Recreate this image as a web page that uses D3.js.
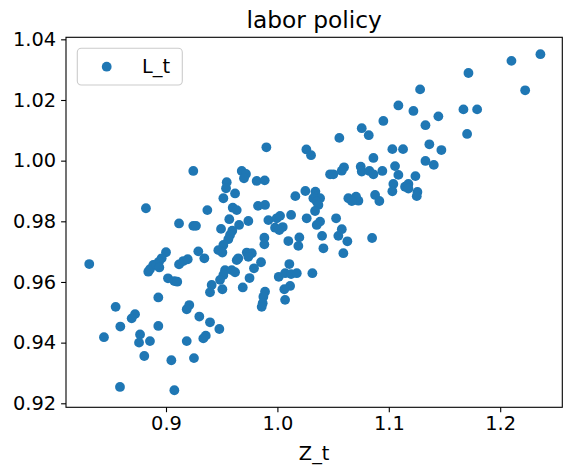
<!DOCTYPE html>
<html>
<head>
<meta charset="utf-8">
<script src="https://cdn.jsdelivr.net/npm/d3@7/dist/d3.min.js"></script>
<style>
  html, body { margin: 0; padding: 0; background: #fff; }
  svg text { font-family: "DejaVu Sans", sans-serif; fill: #000; }
</style>
</head>
<body>
<svg id="chart" width="572" height="473"></svg>
<script>
// Data
const Z_t = [
  1.2361,1.2101,1.2224,1.1715,1.1281,1.1086,1.1221,1.1670,1.1793,1.1445,
  1.0951,1.1329,1.0757,1.0820,1.1703,1.1364,1.1032,1.1128,1.1472,1.0862,
  1.1329,1.1404,1.1056,1.1086,1.1239,1.0942,1.1041,1.1146,1.1176,1.1176,
  1.1257,1.1251,1.1032,1.0877,1.0915,1.0727,1.0748,1.0757,1.0826,1.0862,
  1.0556,0.9901,1.0260,1.0302,1.0598,1.0578,1.0473,1.0502,0.9814,0.9886,
  1.0161,1.0251,1.0341,1.0347,1.0383,1.0323,1.0353,1.0368,1.0338,1.0637,
  1.0706,1.0668,0.9826,0.9889,0.9919,0.9994,1.0024,1.0123,1.0263,0.9979,
  1.0048,1.0017,1.0353,1.0383,1.0527,1.0578,1.0547,1.0628,1.0850,1.0401,
  1.0413,1.0592,1.0197,1.0098,1.0188,0.9883,0.9883,1.0107,1.0012,1.0069,
  1.0123,1.0174,1.0314,1.0114,1.0062,1.0069,0.9889,0.9874,0.9868,0.9859,
  0.9790,0.9853,0.9750,0.9245,0.9680,0.9718,0.9700,0.9545,0.9539,0.9620,
  0.9515,0.9599,0.9635,0.8820,0.9371,0.9117,0.9245,0.9269,0.9494,0.9568,
  0.9656,0.9739,0.9595,0.9575,0.9559,0.9515,0.9470,0.9506,0.9725,0.9770,
  0.9739,0.9635,0.9649,0.9290,0.9344,0.9000,0.8961,0.8937,0.8886,0.8841,
  0.8856,0.8910,0.8940,0.9117,0.9155,0.9195,0.8311,0.9018,0.9075,0.9101,
  0.9530,0.9590,0.9620,0.9515,0.9485,0.9410,0.9395,0.9506,0.9689,0.8931,
  0.8548,0.9209,0.9186,0.8722,0.8692,0.9299,0.9395,0.9479,0.8590,0.8931,
  0.8443,0.8767,0.8758,0.8856,0.9186,0.9357,0.9335,0.8805,0.9048,0.9251,
  0.8587,0.9075
];
const L_t = [
  1.0351,1.0329,1.0232,1.0289,1.0235,1.0182,1.0164,1.0169,1.0169,1.0146,
  1.0131,1.0117,1.0107,1.0084,1.0088,1.0054,1.0038,1.0038,1.0035,1.0009,
  0.9999,0.9986,0.9982,0.9953,0.9949,0.9966,0.9923,0.9914,0.9923,0.9908,
  0.9897,0.9883,0.9899,0.9887,0.9867,0.9868,0.9980,0.9964,0.9966,0.9955,
  1.0075,1.0044,1.0037,1.0018,0.9978,0.9967,0.9955,0.9955,0.9933,0.9935,
  0.9883,0.9900,0.9898,0.9881,0.9876,0.9876,0.9865,0.9854,0.9834,0.9876,
  0.9881,0.9867,0.9851,0.9854,0.9804,0.9810,0.9818,0.9821,0.9810,0.9779,
  0.9781,0.9771,0.9788,0.9799,0.9810,0.9774,0.9752,0.9734,0.9745,0.9752,
  0.9711,0.9695,0.9747,0.9735,0.9719,0.9746,0.9724,0.9659,0.9617,0.9629,
  0.9626,0.9629,0.9629,0.9587,0.9576,0.9541,0.9568,0.9551,0.9530,0.9518,
  0.9645,0.9665,0.9613,0.9966,0.9966,0.9956,0.9942,0.9929,0.9909,0.9892,
  0.9876,0.9845,0.9837,0.9843,0.9837,0.9793,0.9785,0.9785,0.9775,0.9807,
  0.9788,0.9801,0.9769,0.9755,0.9741,0.9722,0.9705,0.9697,0.9697,0.9695,
  0.9683,0.9672,0.9678,0.9701,0.9678,0.9698,0.9678,0.9667,0.9656,0.9634,
  0.9642,0.9658,0.9648,0.9658,0.9669,0.9675,0.9659,0.9612,0.9603,0.9601,
  0.9639,0.9639,0.9632,0.9623,0.9607,0.9590,0.9566,0.9576,0.9582,0.9549,
  0.9518,0.9524,0.9510,0.9494,0.9480,0.9486,0.9467,0.9445,0.9453,0.9455,
  0.9418,0.9427,0.9400,0.9405,0.9405,0.9423,0.9414,0.9356,0.9342,0.9349,
  0.9254,0.9243
];
const xTicks = [0.9, 1.0, 1.1, 1.2];
const yTicks = [0.92, 0.94, 0.96, 0.98, 1.00, 1.02, 1.04];
const titleText = "labor policy";
const xLabel = "Z_t";
const seriesName = "L_t";

(function () {
  const svg = d3.select("#chart");
  const mLeft = 66, mRight = 562.3, mTop = 37.3, mBottom = 407.3;
  const color = "#1f77b4";
  const r = 4.9;

  const x = d3.scaleLinear().domain([0.81023, 1.25575]).range([mLeft, mRight]);
  const y = d3.scaleLinear().domain([0.91868, 1.04067]).range([mBottom, mTop]);

  const points = Z_t.map((z, i) => ({ z: z, l: L_t[i] }));

  svg.append("g")
    .selectAll("circle")
    .data(points)
    .enter().append("circle")
    .attr("cx", d => x(d.z))
    .attr("cy", d => y(d.l))
    .attr("r", r)
    .attr("fill", color);

  const fs = 19.4;
  const xAxis = svg.append("g")
    .attr("transform", `translate(0,${mBottom})`)
    .call(d3.axisBottom(x).tickValues(xTicks).tickFormat(d3.format(".1f")).tickSize(4.9).tickPadding(4.2));
  const yAxis = svg.append("g")
    .attr("transform", `translate(${mLeft},0)`)
    .call(d3.axisLeft(y).tickValues(yTicks).tickFormat(d3.format(".2f")).tickSize(4.9).tickPadding(4.9));

  [xAxis, yAxis].forEach(g => {
    g.select(".domain").remove();
    g.selectAll(".tick line").attr("stroke", "#000").attr("stroke-width", 1.1);
    g.selectAll(".tick text")
      .style("font-family", "DejaVu Sans, sans-serif")
      .style("font-size", fs + "px")
      .attr("fill", "#000");
  });

  svg.append("rect")
    .attr("x", mLeft).attr("y", mTop)
    .attr("width", mRight - mLeft).attr("height", mBottom - mTop)
    .attr("fill", "none").attr("stroke", "#000").attr("stroke-width", 1.1);

  svg.append("text")
    .attr("x", (mLeft + mRight) / 2).attr("y", 28.3)
    .attr("text-anchor", "middle")
    .style("font-size", "23.3px")
    .text(titleText);

  svg.append("text")
    .attr("x", (mLeft + mRight) / 2).attr("y", 459.5)
    .attr("text-anchor", "middle")
    .style("font-size", fs + "px")
    .text(xLabel);

  const lg = svg.append("g");
  lg.append("rect")
    .attr("x", 77.3).attr("y", 48.3)
    .attr("width", 105).attr("height", 36.7)
    .attr("rx", 4).attr("ry", 4)
    .attr("fill", "#fff").attr("fill-opacity", 0.8)
    .attr("stroke", "#cccccc").attr("stroke-width", 1.1);
  lg.append("circle")
    .attr("cx", 106.7).attr("cy", 66.7).attr("r", r).attr("fill", color);
  lg.append("text")
    .attr("x", 142).attr("y", 73)
    .style("font-size", fs + "px")
    .text(seriesName);
})();
</script>
</body>
</html>
